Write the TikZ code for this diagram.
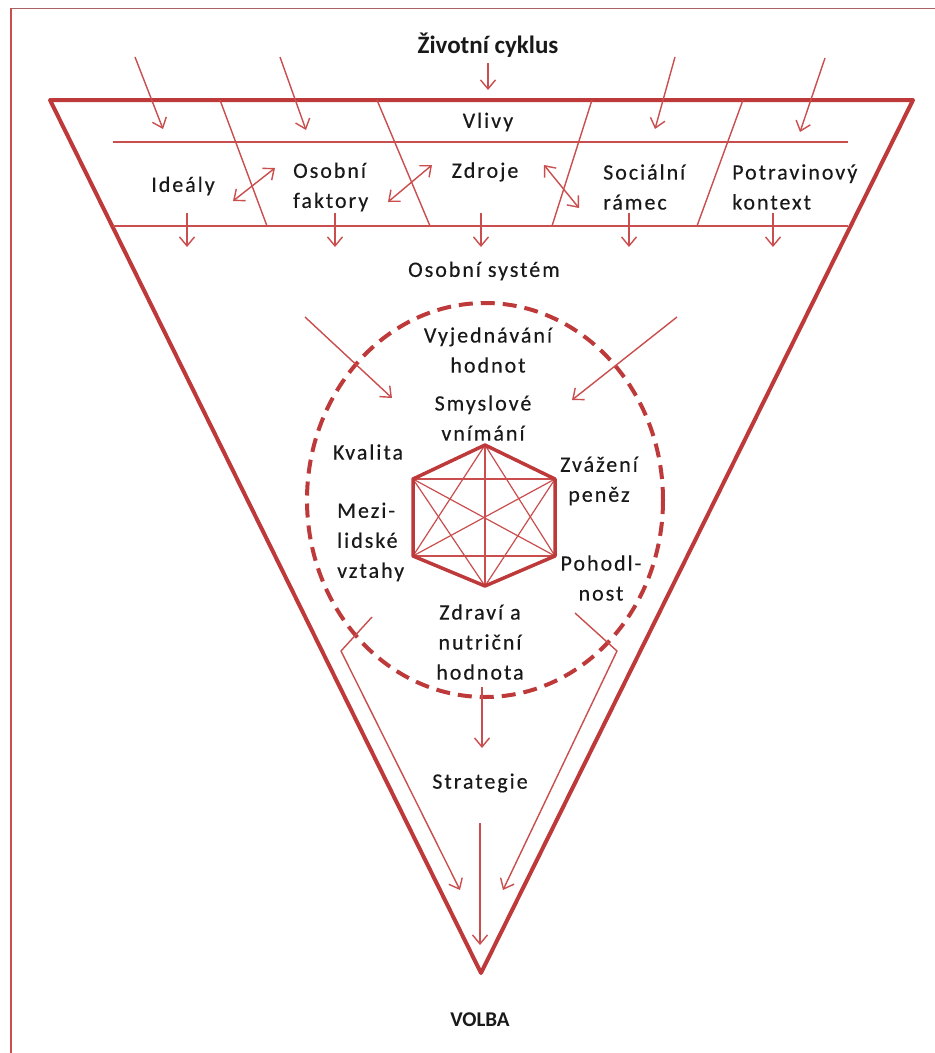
\documentclass[tikz,border=0pt]{standalone}
\usepackage{fontspec}
\setmainfont{Carlito}
\newfontfamily\lblfont[LetterSpace=9,FakeBold=0.3]{Carlito}
\usetikzlibrary{arrows.meta}
\definecolor{rl}{RGB}{202,78,78}
\definecolor{rk}{RGB}{190,58,58}
\definecolor{tx}{RGB}{25,25,25}
\tikzset{
  thinln/.style={draw=rl, line width=1.4pt},
  thickln/.style={draw=rk, line width=4pt, line join=round},
  arr/.style={thinln, -{Straight Barb[length=9pt,width=15pt,line width=1.4pt]}},
  darr/.style={thinln, {Straight Barb[length=9pt,width=15pt,line width=1.4pt]}-{Straight Barb[length=9pt,width=15pt,line width=1.4pt]}},
  lbl/.style={text=tx, font=\lblfont\fontsize{22}{30}\selectfont, inner sep=0pt},
  lbll/.style={lbl, align=left, anchor=west},
  lblc/.style={lbl, align=center},
  ttl/.style={text=tx, font=\bfseries\fontsize{25}{30}\selectfont, inner sep=0pt},
}
\begin{document}
\begin{tikzpicture}[x=1pt,y=-1pt]
\useasboundingbox (0,0) rectangle (935,1053);
\fill[white] (0,0) rectangle (935,1053);
% frame
\coordinate (fb) at (11,1053);
\coordinate (fc) at (11,8);
\coordinate (fr) at (935,8);
\draw[rl, line width=2pt] (fb) -- (fc);
\draw[rl!60!gray, line width=1pt] (fc) -- (fr);

% big triangle
\coordinate (TL) at (50,100);
\coordinate (TR) at (913,100);
\coordinate (AP) at (481,973);
\draw[thickln] (TL) -- (TR) -- (AP) -- cycle;

% horizontal lines
\coordinate (u1) at (113,142); \coordinate (u2) at (848,142);
\coordinate (l1) at (113,226); \coordinate (l2) at (848,226);
\draw[thinln] (u1) -- (u2);
\draw[thinln] (l1) -- (l2);

% dividers
\coordinate (d1a) at (220,100); \coordinate (d1b) at (267,226);
\coordinate (d2a) at (377,100); \coordinate (d2b) at (430,226);
\coordinate (d3a) at (592,100); \coordinate (d3b) at (552,226);
\coordinate (d4a) at (743,100); \coordinate (d4b) at (697,226);
\draw[thinln] (d1a) -- (d1b);
\draw[thinln] (d2a) -- (d2b);
\draw[thinln] (d3a) -- (d3b);
\draw[thinln] (d4a) -- (d4b);

% title
\node[ttl] (zc) at (488,45) {Životní cyklus};

% incoming arrows
\coordinate (i1a) at (135,57);  \coordinate (i1b) at (163,129);
\coordinate (i2a) at (280,57);  \coordinate (i2b) at (306,130);
\coordinate (i3a) at (488,63);  \coordinate (i3b) at (488,90);
\coordinate (i4a) at (675,57);  \coordinate (i4b) at (655,129);
\coordinate (i5a) at (825,58);  \coordinate (i5b) at (800,132);
\draw[arr] (i1a) -- (i1b);
\draw[arr] (i2a) -- (i2b);
\draw[arr] (i3a) -- (i3b);
\draw[arr] (i4a) -- (i4b);
\draw[arr] (i5a) -- (i5b);

% labels top
\node[lblc] (vl) at (488,122) {Vlivy};
\node[lblc] (id) at (183,186) {Ideály};
\node[lbll] (of) at (293,187) {Osobní\\faktory};
\node[lblc] (zd) at (485,172) {Zdroje};
\node[lbll] (sr) at (603,187) {Sociální\\rámec};
\node[lbll] (pk) at (732,187) {Potravinový\\kontext};

% double arrows
\coordinate (x1a) at (233,201); \coordinate (x1b) at (275,168);
\coordinate (x2a) at (388,202); \coordinate (x2b) at (432,165);
\coordinate (x3a) at (544,165); \coordinate (x3b) at (579,208);
\draw[darr] (x1a) -- (x1b);
\draw[darr] (x2a) -- (x2b);
\draw[darr] (x3a) -- (x3b);

% down arrows
\foreach \n/\x in {1/187,2/335,3/481,4/629,5/773}{
  \coordinate (dn\n a) at (\x,213);
  \coordinate (dn\n b) at (\x,247);
  \draw[arr] (dn\n a) -- (dn\n b);
}

\node[lblc] (os) at (484,271) {Osobní systém};

% dashed ellipse
\draw[rk, line width=4pt, dash pattern=on 14pt off 8pt] (485,500) ellipse [x radius=178, y radius=197];

% converging arrows
\coordinate (c1a) at (305,317); \coordinate (c1b) at (392,398);
\coordinate (c2a) at (677,317); \coordinate (c2b) at (572,400);
\draw[arr] (c1a) -- (c1b);
\draw[arr] (c2a) -- (c2b);

% hexagon (complete graph)
\coordinate (h1) at (485,445);
\coordinate (h2) at (555,479);
\coordinate (h3) at (555,556);
\coordinate (h4) at (485,586);
\coordinate (h5) at (413,556);
\coordinate (h6) at (413,479);
\foreach \a/\b in {h1/h3,h1/h4,h1/h5,h2/h4,h2/h5,h2/h6,h3/h5,h3/h6,h4/h6}{
  \draw[rl, line width=1.2pt] (\a) -- (\b);
}
\draw[rk, line width=3.5pt, line join=round] (h1) -- (h2) -- (h3) -- (h4) -- (h5) -- (h6) -- cycle;

% inner labels
\node[lblc] (vh) at (488,350) {Vyjednávání\\hodnot};
\node[lblc] (sv) at (483,418) {Smyslové\\vnímání};
\node[lblc] (kv) at (368,452) {Kvalita};
\node[lblc] (zp) at (599,481) {Zvážení\\peněz};
\node[lbll] (ml) at (337,542) {Mezi-\\lidské\\vztahy};
\node[lblc] (pn) at (601,578) {Pohodl-\\nost};
\node[lblc] (zn) at (480,642) {Zdraví a\\nutriční\\hodnota};

% bottom arrows
\coordinate (b1a) at (372,617); \coordinate (b1c) at (341,651); \coordinate (b1b) at (460,890);
\coordinate (b2a) at (575,613); \coordinate (b2c) at (617,651); \coordinate (b2b) at (503,890);
\draw[arr, line join=bevel] (b1a) -- (b1c) -- (b1b);
\draw[arr, line join=bevel] (b2a) -- (b2c) -- (b2b);
\coordinate (m1a) at (482,687); \coordinate (m1b) at (482,748);
\draw[arr] (m1a) -- (m1b);

\node[lblc] (st) at (480,783) {Strategie};
\coordinate (m2a) at (480,823);
\coordinate (m2b) at (480,945);
\draw[arr] (m2a) -- (m2b);

\node[ttl, font=\bfseries\fontsize{21}{26}\selectfont] (vo) at (480,1020) {VOLBA};
\end{tikzpicture}
\end{document}
